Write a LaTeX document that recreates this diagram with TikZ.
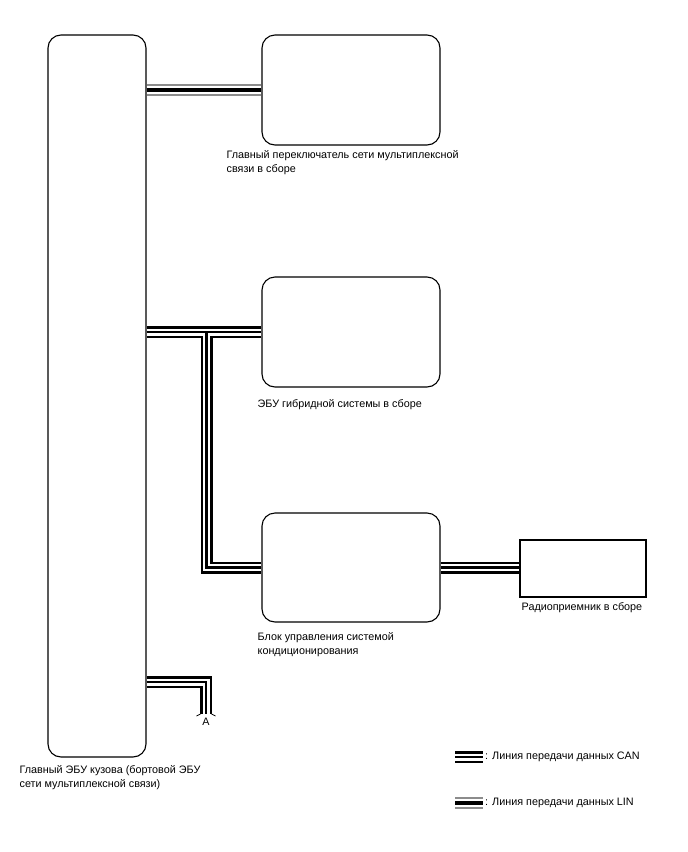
\documentclass[tikz,border=0pt]{standalone}
\usepackage{fontspec}
\setmainfont{Liberation Sans}
\usetikzlibrary{positioning, calc}

\begin{document}
\begin{tikzpicture}[
    x=1pt, y=-1pt,
    unit/.style={draw, rounded corners=13pt, line width=1.1pt, inner sep=0pt},
    radiobox/.style={draw, line width=1.1pt, inner sep=0pt},
    lbl/.style={inner sep=0pt, align=left, font=\fontsize{10.8pt}{13.5pt}\selectfont},
    can/.style={preaction={draw, black, line width=12pt}, preaction={draw, white, line width=7pt}, draw, black, line width=2.2pt},
    lin/.style={preaction={draw, black!45, line width=11.5pt}, preaction={draw, white, line width=8.5pt}, draw, black, line width=4.2pt}
]
    \useasboundingbox (0,0) rectangle (688,852);

    % ECUs
    \node[unit, minimum width=98pt, minimum height=722pt] (main) at (97,396) {};
    \node[unit, minimum width=178pt, minimum height=110pt] (sw) at (351,90) {};
    \node[unit, minimum width=178pt, minimum height=110pt] (hyb) at (351,332) {};
    \node[unit, minimum width=178pt, minimum height=109pt] (ac) at (351,567.5) {};
    \node[radiobox, minimum width=126pt, minimum height=57pt] (radio) at (583,568.5) {};

    % Captions
    \node[lbl, below right=5pt and -35pt of sw.south west] (swtext) {Главный переключатель сети мультиплексной\\связи в сборе};
    \node[lbl, below right=12pt and -4pt of hyb.south west] (hybtext) {ЭБУ гибридной системы в сборе};
    \node[lbl, below right=10pt and -4pt of ac.south west] (actext) {Блок управления системой\\кондиционирования};
    \node[lbl, below right=5pt and 2pt of radio.south west] (radiotext) {Радиоприемник в сборе};
    \node[lbl, below right=8pt and -28pt of main.south west] (maintext) {Главный ЭБУ кузова (бортовой ЭБУ\\сети мультиплексной связи)};

    % Bus lines
    \coordinate (jn) at ($(main.east |- hyb.west)+(60,0)$);
    \coordinate (stubEnd) at (206,714);
    \draw[lin] (main.east |- sw.west) -- (sw.west);
    \draw[can] (main.east |- hyb.west) -- (hyb.west) (jn) |- (ac.west);
    \draw[can] (ac.east) -- (ac.east -| radio.west);
    \draw[can] (main.east |- 0,682) -| (stubEnd);

    % Cut end of the stub
    \draw[line width=0.8pt] ([xshift=-5.5pt]stubEnd) -- ++(-4pt,-2pt);
    \draw[line width=0.8pt] ([xshift=5.5pt]stubEnd) -- ++(4pt,-2pt);
    \node[lbl, below=4pt of stubEnd] (tagA) {A};

    % Legend
    \coordinate (canA) at (455,757);
    \coordinate (canB) at (483,757);
    \coordinate (linA) at (455,803);
    \coordinate (linB) at (483,803);
    \draw[can] (canA) -- (canB);
    \draw[lin] (linA) -- (linB);
    \node[lbl, right=2pt of canB] (cantext) {: Линия передачи данных CAN};
    \node[lbl, right=2pt of linB] (lintext) {: Линия передачи данных LIN};
\end{tikzpicture}
\end{document}
